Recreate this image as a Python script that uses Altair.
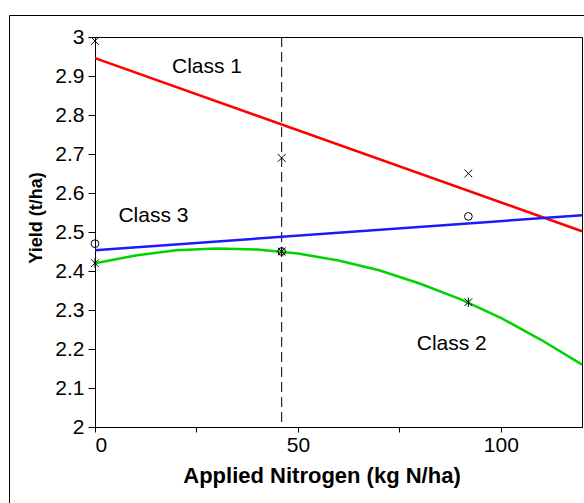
import altair as alt
import pandas as pd

FONT = "Liberation Sans"

# Observed yields (t/ha) at the three nitrogen rates (kg N/ha)
n_rates = [0, 46, 92]
class1_obs = [2.99, 2.69, 2.65]
class2_obs = [2.42, 2.45, 2.32]
class3_obs = [2.47, 2.45, 2.54]

# Fitted response lines
line_n = [0, 120]
class1_fit = [2.946, 2.502]
class3_fit = [2.453, 2.543]

curve_n = [0, 10, 20, 30, 40, 50, 60, 70, 80, 90, 100, 110, 120]
class2_fit = [2.420, 2.440, 2.453, 2.458, 2.455, 2.445, 2.427,
              2.402, 2.368, 2.328, 2.280, 2.223, 2.160]

# Recommended rate (dashed marker line)
optimum_n = [46]

# Class annotations
class_names = ["Class 1", "Class 3", "Class 2"]
label_n = [27.6, 14.4, 87.9]
label_yield = [2.923, 2.540, 2.214]

x_enc = alt.X(
    "n:Q",
    scale=alt.Scale(domain=[0, 120], nice=False),
    axis=alt.Axis(
        values=[0, 25, 50, 75, 100],
        labelExpr="datum.value % 50 == 0 ? datum.label : ''",
        title="Applied Nitrogen (kg N/ha)",
        tickSize=5,
        labelPadding=2,
        labelFontSize=21,
        titleFontSize=22,
        titleFontWeight="bold",
        titleX=226.5,
        titleY=55.7,
        titleAlign="center",
        titleBaseline="alphabetic",
    ),
)
y_enc = alt.Y(
    "yield:Q",
    scale=alt.Scale(domain=[2, 3], nice=False, zero=False),
    axis=alt.Axis(
        values=[2.0, 2.1, 2.2, 2.3, 2.4, 2.5, 2.6, 2.7, 2.8, 2.9, 3.0],
        format=".1~f",
        title="Yield (t/ha)",
        tickSize=7,
        labelPadding=4,
        labelFontSize=21,
        titleFontSize=18,
        titleFontWeight="bold",
        titleX=-59,
        titleY=180.5,
        titleAlign="center",
        titleBaseline="middle",
    ),
)


def fit_layer(xs, ys, color):
    df = pd.DataFrame({"n": xs, "yield": ys})
    return alt.Chart(df).mark_line(color=color, strokeWidth=2.5).encode(x=x_enc, y=y_enc)


def obs_layer(ys, shape):
    df = pd.DataFrame({"n": n_rates, "yield": ys})
    return alt.Chart(df).mark_point(
        shape=shape, size=60, filled=False, color="black", strokeWidth=1, opacity=1
    ).encode(x=x_enc, y=y_enc)


X_SHAPE = "M-1,-1L1,1M-1,1L1,-1"
STAR_SHAPE = "M-1,-1L1,1M-1,1L1,-1M0,-1.2L0,1.2"

frame = alt.Chart(pd.DataFrame({"k": [0]})).mark_rect(
    fill="transparent", stroke="black", strokeWidth=1
).encode(
    x=alt.value(-85.5), x2=alt.value(600), y=alt.value(-21.5), y2=alt.value(600)
)

optimum = alt.Chart(pd.DataFrame({"n": optimum_n})).mark_rule(
    color="black", strokeWidth=1, strokeDash=[10, 5]
).encode(x=x_enc)

labels = alt.Chart(
    pd.DataFrame({"n": label_n, "yield": label_yield, "name": class_names})
).mark_text(font=FONT, fontSize=21, color="black", align="center", baseline="middle").encode(
    x=x_enc, y=y_enc, text="name:N"
)

chart = alt.layer(
    frame,
    optimum,
    fit_layer(line_n, class1_fit, "#ff0000"),
    fit_layer(line_n, class3_fit, "#1a1aff"),
    fit_layer(curve_n, class2_fit, "#00d400"),
    obs_layer(class1_obs, X_SHAPE),
    obs_layer(class3_obs, "circle"),
    obs_layer(class2_obs, STAR_SHAPE),
    labels,
).properties(
    width=487,
    height=390,
    autosize=alt.AutoSizeParams(type="none"),
    padding={"left": 95, "top": 37, "right": 2, "bottom": 76},
    background="white",
).configure_view(
    stroke="black", strokeWidth=1
).configure_axis(
    grid=False,
    domainColor="black",
    domainWidth=1,
    tickColor="black",
    tickWidth=1,
    labelColor="black",
    titleColor="black",
    labelFont=FONT,
    titleFont=FONT,
)

chart.save("out.html", embed_options={"renderer": "svg", "actions": False})
